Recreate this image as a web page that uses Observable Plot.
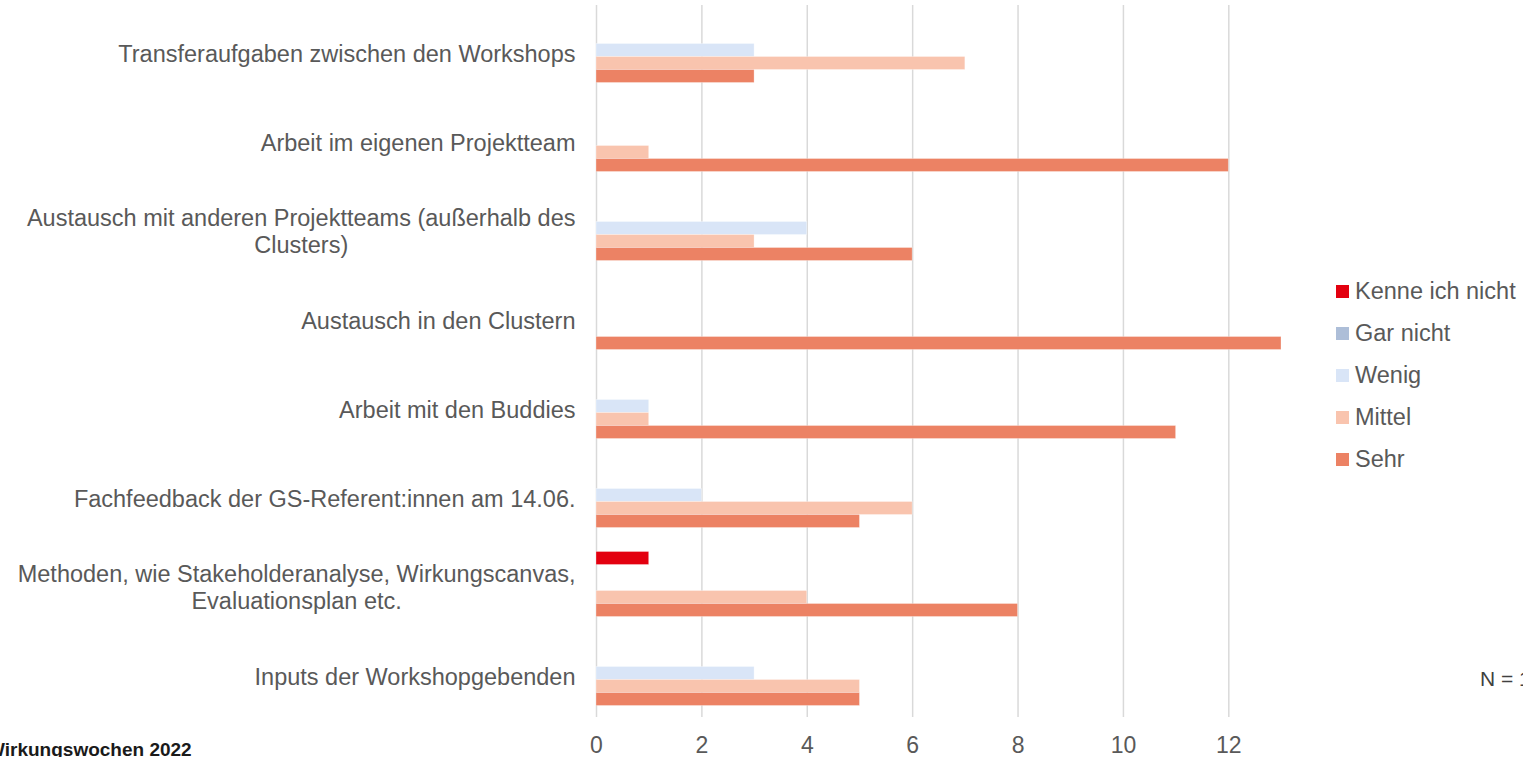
<!DOCTYPE html>
<html>
<head>
<meta charset="utf-8">
<script src="https://cdn.jsdelivr.net/npm/d3@7"></script>
<script src="https://cdn.jsdelivr.net/npm/@observablehq/plot@0.6"></script>
<style>
  html, body { margin: 0; padding: 0; background: #fff; }
  #wrap { position: relative; width: 1523px; height: 757px; overflow: hidden; font-family: "Liberation Sans", Arial, sans-serif; }
  #chart { position: absolute; left: 0; top: 0; }
  .legend { position: absolute; left: 1336px; top: 270px; color: #595959; font-size: 23.5px; }
  .legend .item { display: flex; align-items: center; height: 42.2px; }
  .legend .sw { width: 13px; height: 13px; margin-right: 6px; }
  .note { position: absolute; color: #404040; font-size: 21px; white-space: nowrap; }
  .source { position: absolute; left: -13px; top: 739px; font-size: 19px; font-weight: bold; color: #1a1a1a; white-space: nowrap; }
</style>
</head>
<body>
<div id="wrap">
  <div id="chart"></div>
</div>
<script>
const categories = [
  "Transferaufgaben zwischen den Workshops",
  "Arbeit im eigenen Projektteam",
  "Austausch mit anderen Projektteams (außerhalb des\nClusters)",
  "Austausch in den Clustern",
  "Arbeit mit den Buddies",
  "Fachfeedback der GS-Referent:innen am 14.06.",
  "Methoden, wie Stakeholderanalyse, Wirkungscanvas,\nEvaluationsplan etc.",
  "Inputs der Workshopgebenden"
];
const series = ["Kenne ich nicht", "Gar nicht", "Wenig", "Mittel", "Sehr"];
const colors = ["#e3000f", "#adbed8", "#d9e5f7", "#f9c4ae", "#ec8264"];

const kenneIchNicht = [0, 0, 0, 0, 0, 0, 1, 0];
const garNicht      = [0, 0, 0, 0, 0, 0, 0, 0];
const wenig         = [3, 0, 4, 0, 1, 2, 0, 3];
const mittel        = [7, 1, 3, 0, 1, 6, 4, 5];
const sehr          = [3, 12, 6, 13, 11, 5, 8, 5];
const xTicks = [0, 2, 4, 6, 8, 10, 12];

const seriesValues = [kenneIchNicht, garNicht, wenig, mittel, sehr];
const rows = [];
categories.forEach((c, i) => {
  series.forEach((s, j) => {
    const v = seriesValues[j][i];
    if (v > 0) rows.push({category: c, series: s, value: v});
  });
});

const labelFont = 23.5;
const ctx = document.createElement("canvas").getContext("2d");
ctx.font = `${labelFont}px "Liberation Sans"`;
const gap = 21;
const labelMarks = categories.map(c => {
  const w = d3.max(c.split("\n"), l => ctx.measureText(l).width);
  return Plot.text([c], {
    fy: d => d,
    text: d => d,
    frameAnchor: "left",
    textAnchor: "middle",
    dx: -(gap + w / 2),
    dy: 3,
    lineHeight: 1.15,
    fontSize: labelFont,
    fill: "#595959"
  });
});

const chart = Plot.plot({
  width: 1523,
  height: 757,
  marginLeft: 596,
  marginRight: 242,
  marginTop: 4.5,
  marginBottom: 40.5,
  style: {fontFamily: '"Liberation Sans", Arial, sans-serif', background: "transparent", overflow: "visible"},
  x: {domain: [0, 13], axis: null, label: null},
  fy: {domain: categories, padding: 0, axis: null, label: null},
  y: {domain: series, paddingInner: 0, paddingOuter: 0.923, axis: null, label: null},
  color: {domain: series, range: colors},
  marks: [
    Plot.gridX(xTicks, {stroke: "#d9d9d9", strokeOpacity: 1, strokeWidth: 1.5}),
    Plot.barX(rows, {x: "value", y: "series", fy: "category", fill: "series", stroke: "#ffffff", strokeOpacity: 0.4, strokeWidth: 0.75}),
    Plot.axisX(xTicks, {tickSize: 0, tickPadding: 19, fontSize: 23, fill: "#595959", label: null, tickFormat: d => String(d)}),
    ...labelMarks
  ]
});
document.getElementById("chart").appendChild(chart);

// legend
const wrap = document.getElementById("wrap");
const legend = document.createElement("div");
legend.className = "legend";
series.forEach((s, j) => {
  const item = document.createElement("div");
  item.className = "item";
  const sw = document.createElement("span");
  sw.className = "sw";
  sw.style.background = colors[j];
  const t = document.createElement("span");
  t.textContent = s;
  item.appendChild(sw);
  item.appendChild(t);
  legend.appendChild(item);
});
wrap.appendChild(legend);

const note = document.createElement("div");
note.className = "note";
note.style.left = "1480px";
note.style.top = "667px";
note.textContent = "N = 13";
wrap.appendChild(note);

const source = document.createElement("div");
source.className = "source";
source.textContent = "Wirkungswochen 2022";
wrap.appendChild(source);
</script>
</body>
</html>
